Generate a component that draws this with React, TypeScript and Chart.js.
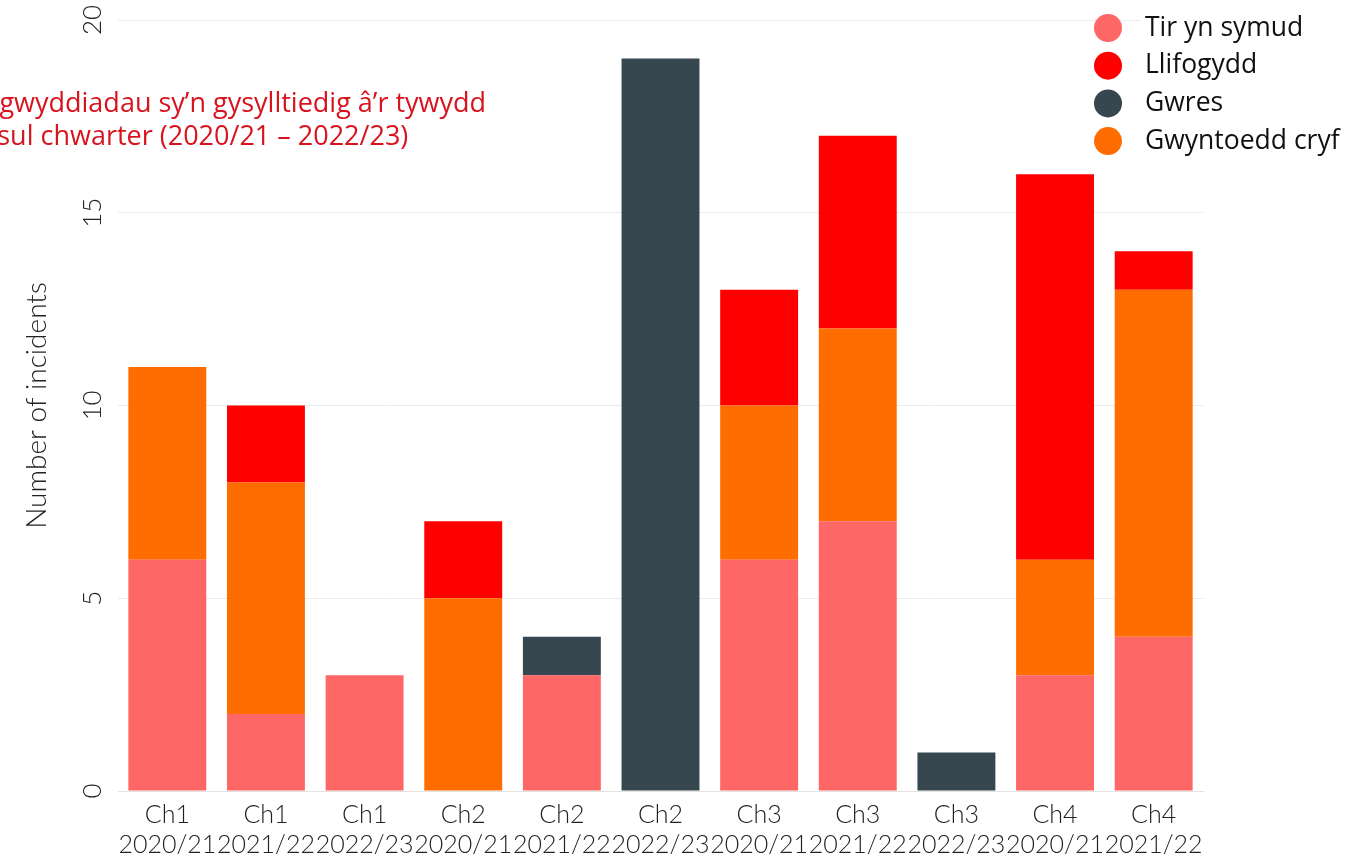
import React, { useEffect, useRef } from "react";
import { Chart, registerables } from "chart.js";

Chart.register(...registerables);

const categories: string[][] = [
  ["Ch1", "2020/21"], ["Ch1", "2021/22"], ["Ch1", "2022/23"],
  ["Ch2", "2020/21"], ["Ch2", "2021/22"], ["Ch2", "2022/23"],
  ["Ch3", "2020/21"], ["Ch3", "2021/22"], ["Ch3", "2022/23"],
  ["Ch4", "2020/21"], ["Ch4", "2021/22"],
];
const tirYnSymud = [6, 2, 3, 0, 3, 0, 6, 7, 0, 3, 4];
const gwyntoeddCryf = [5, 6, 0, 5, 0, 0, 4, 5, 0, 3, 9];
const llifogydd = [0, 2, 0, 2, 0, 0, 3, 5, 0, 10, 1];
const gwres = [0, 0, 0, 0, 1, 19, 0, 0, 1, 0, 0];
const yMin = 0;
const yMax = 20;
const yStep = 5;
const titleLines = [
  "Digwyddiadau sy’n gysylltiedig â’r tywydd",
  "fesul chwarter (2020/21 – 2022/23)",
];
const legendOrder = ["Tir yn symud", "Llifogydd", "Gwres", "Gwyntoedd cryf"];
const yAxisTitle = "Number of incidents";

const COLORS: Record<string, string> = {
  "Tir yn symud": "#ff6666",
  "Llifogydd": "#ff0000",
  "Gwres": "#37474f",
  "Gwyntoedd cryf": "#ff6d00",
};

const TICK_FONT = "Lato";

export default function App() {
  const canvasRef = useRef<HTMLCanvasElement | null>(null);

  useEffect(() => {
    document.body.style.margin = "0";
    const canvas = canvasRef.current;
    if (!canvas) return;

    const titlePlugin = {
      id: "cornerTitle",
      afterDraw(chart: any) {
        const ctx = chart.ctx;
        ctx.save();
        ctx.font = "400 27px 'Open Sans'";
        ctx.fillStyle = "#d7141e";
        ctx.textAlign = "left";
        ctx.textBaseline = "middle";
        titleLines.forEach((line, i) => {
          ctx.fillText(line, -27, 104 + i * 33);
        });
        ctx.restore();
      },
    };

    const legendPlugin = {
      id: "cornerLegend",
      afterDraw(chart: any) {
        const ctx = chart.ctx;
        ctx.save();
        ctx.fillStyle = "#ffffff";
        ctx.fillRect(1140, 6, 218, 160);
        ctx.font = "400 26.5px 'Open Sans'";
        ctx.textBaseline = "middle";
        ctx.textAlign = "left";
        legendOrder.forEach((name, i) => {
          const ds = chart.data.datasets.find((d: any) => d.label === name);
          const cy = 28 + i * 37.7;
          ctx.beginPath();
          ctx.arc(1108, cy, 14, 0, Math.PI * 2);
          ctx.fillStyle = ds ? ds.backgroundColor : "#000";
          ctx.fill();
          ctx.fillStyle = "#111111";
          ctx.fillText(name, 1145, cy);
        });
        ctx.restore();
      },
    };

    const chart = new Chart(canvas, {
      type: "bar",
      data: {
        labels: categories,
        datasets: [
          { label: "Tir yn symud", data: tirYnSymud, backgroundColor: COLORS["Tir yn symud"] },
          { label: "Gwyntoedd cryf", data: gwyntoeddCryf, backgroundColor: COLORS["Gwyntoedd cryf"] },
          { label: "Llifogydd", data: llifogydd, backgroundColor: COLORS["Llifogydd"] },
          { label: "Gwres", data: gwres, backgroundColor: COLORS["Gwres"] },
        ],
      },
      options: {
        responsive: false,
        animation: false,
        devicePixelRatio: 1,
        layout: { padding: { top: 20, right: 155, bottom: 0, left: 0 } },
        datasets: {
          bar: { barPercentage: 0.79, categoryPercentage: 1.0, borderWidth: 0 },
        },
        plugins: {
          legend: { display: false },
          title: { display: false },
          tooltip: { enabled: false },
        },
        scales: {
          x: {
            stacked: true,
            grid: { display: false, drawTicks: false },
            border: { display: true, color: "#e3e3e3", width: 1 },
            ticks: {
              color: "#222222",
              font: { family: TICK_FONT, size: 25, weight: "300", lineHeight: 1.2 },
              padding: 9,
              maxRotation: 0,
              minRotation: 0,
              autoSkip: false,
            },
            afterFit(scale: any) {
              scale.height = 67;
              scale.paddingLeft = 0;
              scale.paddingRight = 0;
            },
          },
          y: {
            stacked: true,
            min: yMin,
            max: yMax,
            grid: { color: "#ebebeb", drawTicks: false, lineWidth: 1 },
            border: { display: false },
            ticks: {
              stepSize: yStep,
              color: "#222222",
              font: { family: TICK_FONT, size: 26, weight: "300" },
              minRotation: 90,
              maxRotation: 90,
              crossAlign: "center",
              padding: 10,
            },
            title: {
              display: true,
              text: yAxisTitle,
              color: "#222222",
              font: { family: TICK_FONT, size: 28, weight: "300", lineHeight: 1.2 },
              padding: { top: 20, bottom: 0 },
            },
            afterFit(scale: any) {
              scale.width = 118;
              scale.paddingTop = 0;
              scale.paddingBottom = 0;
            },
          },
        },
      } as any,
      plugins: [titlePlugin, legendPlugin],
    });

    return () => {
      chart.destroy();
    };
  }, []);

  return (
    <div style={{ width: 1358, height: 858, position: "relative", background: "#fff" }}>
      <canvas ref={canvasRef} width={1358} height={858} style={{ display: "block" }} />
    </div>
  );
}
